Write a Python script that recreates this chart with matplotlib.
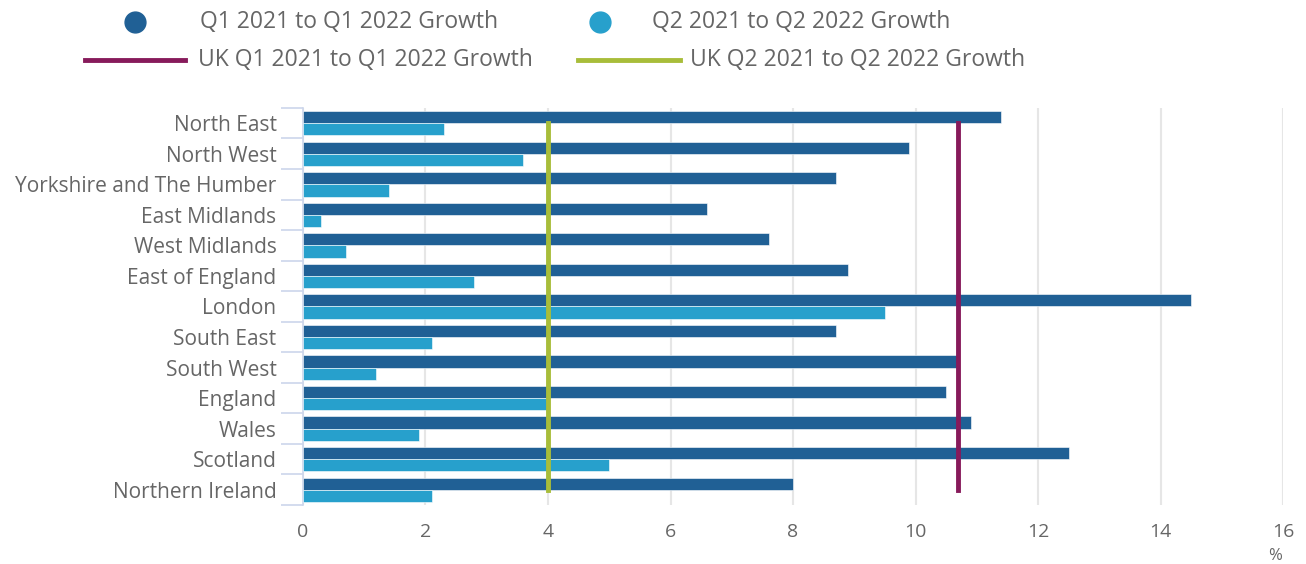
import matplotlib
matplotlib.use('Agg')
import matplotlib.pyplot as plt
from matplotlib.lines import Line2D
import numpy as np

# --- Data ---
regions = [
    'North East', 'North West', 'Yorkshire and The Humber', 'East Midlands',
    'West Midlands', 'East of England', 'London', 'South East', 'South West',
    'England', 'Wales', 'Scotland', 'Northern Ireland',
]
q1_growth = [11.4, 9.9, 8.7, 6.6, 7.6, 8.9, 14.5, 8.7, 10.7, 10.5, 10.9, 12.5, 8.0]
q2_growth = [2.3, 3.6, 1.4, 0.3, 0.7, 2.8, 9.5, 2.1, 1.2, 4.0, 1.9, 5.0, 2.1]
uk_q1 = 10.7
uk_q2 = 4.0

series_names = [
    'Q1 2021 to Q1 2022 Growth', 'Q2 2021 to Q2 2022 Growth',
    'UK Q1 2021 to Q1 2022 Growth', 'UK Q2 2021 to Q2 2022 Growth',
]

# --- Style ---
C_Q1 = '#206095'
C_Q2 = '#27a0cc'
C_UK1 = '#871a5b'
C_UK2 = '#a8bd3a'
TXT = '#666666'
AXIS = '#ccd6eb'
GRID = '#e6e6e6'
LEG = 16.5

plt.rcParams['font.family'] = ['Open Sans', 'DejaVu Sans']


def fx(px):
    return px / 1306


def fy(py):
    return 1 - py / 564


fig = plt.figure(figsize=(13.06, 5.64), dpi=100)
ax = fig.add_axes([0.232, 0.1046, 0.7504, 0.704])

y = np.arange(len(regions))
h = 0.4
ax.barh(y - h / 2, q1_growth, height=h, color=C_Q1, edgecolor='white', linewidth=0.4, zorder=3)
ax.barh(y + h / 2, q2_growth, height=h, color=C_Q2, edgecolor='white', linewidth=0.4, zorder=3)

# UK reference lines span first to last category centre
ax.plot([uk_q1, uk_q1], [y[0], y[-1]], color=C_UK1, linewidth=3.5, zorder=4)
ax.plot([uk_q2, uk_q2], [y[0], y[-1]], color=C_UK2, linewidth=3.5, zorder=4)

ax.set_xlim(0, 16)
ax.set_ylim(len(regions) - 0.5, -0.5)
ax.set_xticks(np.arange(0, 17, 2))
ax.set_yticks(y)
ax.set_yticklabels(regions)
ax.set_yticks(np.arange(-0.5, len(regions), 1), minor=True)

ax.grid(axis='x', color=GRID, linewidth=1.5, zorder=0)
for s in ['top', 'right', 'bottom']:
    ax.spines[s].set_visible(False)
ax.spines['left'].set_color(AXIS)
ax.spines['left'].set_linewidth(1.2)

ax.tick_params(axis='y', which='major', length=0, pad=19, labelsize=15, labelcolor=TXT)
ax.tick_params(axis='y', which='minor', length=16, color=AXIS, width=1.2)
ax.tick_params(axis='x', length=0, pad=13, labelsize=14, labelcolor=TXT)

fig.text(fx(1275), fy(556), '%', ha='center', va='center', fontsize=12, color=TXT)

# --- Legend (drawn manually to match layout) ---
fig.add_artist(Line2D([fx(135)], [fy(22)], marker='o', markersize=15, color=C_Q1, linestyle='none'))
fig.text(fx(200), fy(22), series_names[0], va='center', fontsize=LEG, color=TXT)
fig.add_artist(Line2D([fx(600)], [fy(22)], marker='o', markersize=15, color=C_Q2, linestyle='none'))
fig.text(fx(652), fy(22), series_names[1], va='center', fontsize=LEG, color=TXT)

fig.add_artist(Line2D([fx(85), fx(185)], [fy(60), fy(60)], color=C_UK1, linewidth=3.5))
fig.text(fx(198), fy(60), series_names[2], va='center', fontsize=LEG, color=TXT)
fig.add_artist(Line2D([fx(578), fx(680)], [fy(60), fy(60)], color=C_UK2, linewidth=3.5))
fig.text(fx(690), fy(60), series_names[3], va='center', fontsize=LEG, color=TXT)

fig.savefig('out.png', dpi=100)
